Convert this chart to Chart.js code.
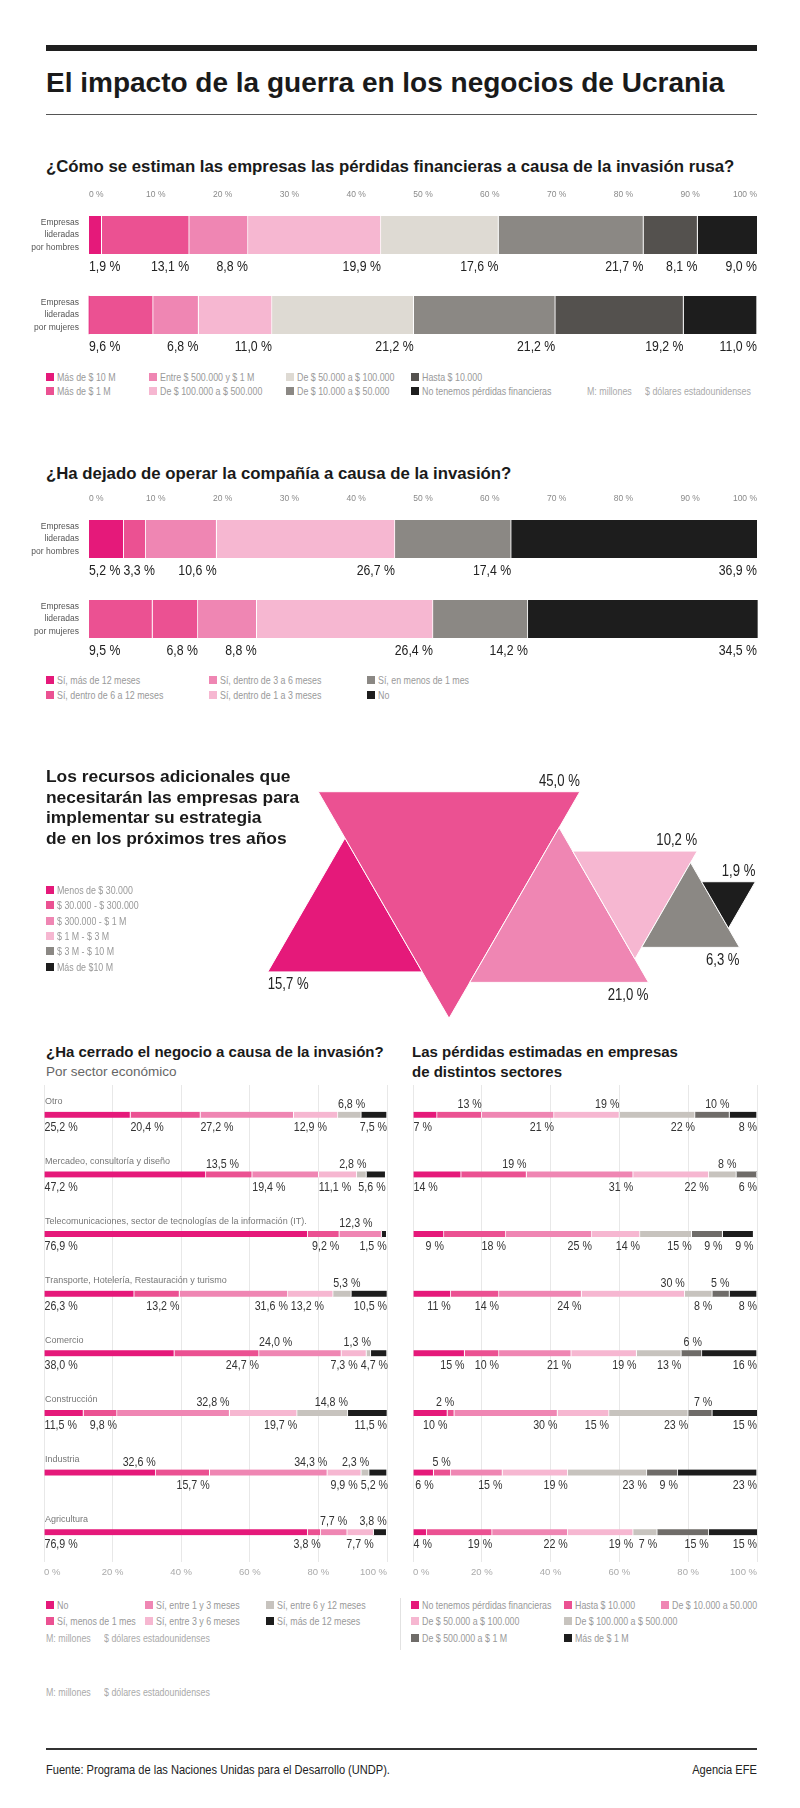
<!DOCTYPE html>
<html>
<head>
<meta charset="utf-8">
<script src="https://cdn.jsdelivr.net/npm/chart.js@4.4.1/dist/chart.umd.min.js"></script>
<style>
  body { margin: 0; background: #fff; }
  #page { position: relative; width: 800px; height: 1808px; overflow: hidden; background: #fff;
          font-family: 'Liberation Sans', Arial, sans-serif; color: #1a1a1a; }
  .abs { position: absolute; white-space: nowrap; }
  .sq { display: inline-block; transform: scaleX(0.82); transform-origin: 0 50%; }
  .sqr { display: inline-block; transform: scaleX(0.82); transform-origin: 100% 50%; }
  canvas { position: absolute; }
  .leg { position: absolute; height: 14px; line-height: 14px; display: flex; align-items: center;
         font-size: 10.8px; color: #999; white-space: nowrap; }
  .leg i { width: 8px; height: 8px; margin-right: 3px; flex: none; }
  .leg span { display: inline-block; transform: scaleX(0.82); transform-origin: 0 50%; }
</style>
</head>
<body>
<div id="page">
  <div class="abs" style="left:46px;top:45px;width:711px;height:6px;background:#1f1f1f"></div>
  <div class="abs" style="left:46px;top:67px;font-weight:bold;font-size:28px;line-height:32px">El impacto de la guerra en los negocios de Ucrania</div>
  <div class="abs" style="left:46px;top:114px;width:711px;height:1px;background:#555"></div>

  <div class="abs" style="left:46px;top:157px;font-weight:bold;font-size:16.8px;line-height:20px">¿Cómo se estiman las empresas las pérdidas financieras a causa de la invasión rusa?</div>
  <canvas id="c1" width="800" height="180" style="left:0;top:180px;width:800px;height:180px"></canvas>

  <div class="abs" style="left:46px;top:464px;font-weight:bold;font-size:16.8px;line-height:20px">¿Ha dejado de operar la compañía a causa de la invasión?</div>
  <canvas id="c2" width="800" height="180" style="left:0;top:484px;width:800px;height:180px"></canvas>

  <canvas id="c3" width="800" height="280" style="left:0;top:760px;width:800px;height:280px"></canvas>
  <div class="abs" style="left:46px;top:766px;font-weight:bold;font-size:17.4px;line-height:20.7px">Los recursos adicionales que<br>necesitarán las empresas para<br>implementar su estrategia<br>de en los próximos tres años</div>

  <div class="abs" style="left:46px;top:1043px;font-weight:bold;font-size:15px;line-height:18px">¿Ha cerrado el negocio a causa de la invasión?</div>
  <div class="abs" style="left:46px;top:1064px;font-size:13.5px;line-height:16px;color:#666">Por sector económico</div>
  <div class="abs" style="left:412px;top:1042px;font-weight:bold;font-size:15px;line-height:20px">Las pérdidas estimadas en empresas<br>de distintos sectores</div>
  <canvas id="c4" width="400" height="510" style="left:0;top:1075px;width:400px;height:510px"></canvas>
  <canvas id="c5" width="400" height="510" style="left:400px;top:1075px;width:400px;height:510px"></canvas>
  <div class="abs" style="left:400px;top:1598px;width:1px;height:52px;background:#e2e2e2"></div>

  <div class="abs" style="left:46px;top:1748px;width:711px;height:2px;background:#333"></div>
  <div class="abs" style="left:46px;top:1762px;font-size:13.5px;line-height:16px;color:#222"><span class="sq">Fuente: Programa de las Naciones Unidas para el Desarrollo (UNDP).</span></div>
  <div class="abs" style="right:43px;top:1762px;font-size:13.5px;line-height:16px;color:#222"><span class="sqr">Agencia EFE</span></div>
</div>

<script>
// ---- data ----
const lossSeries = ['Más de $ 10 M', 'Más de $ 1 M', 'Entre $ 500.000 y $ 1 M', 'De $ 100.000 a $ 500.000',
                    'De $ 50.000 a $ 100.000', 'De $ 10.000 a $ 50.000', 'Hasta $ 10.000', 'No tenemos pérdidas financieras'];
const lossMen   = [1.9, 13.1, 8.8, 19.9, 17.6, 21.7, 8.1, 9.0];
const lossWomen = [0, 9.6, 6.8, 11.0, 21.2, 21.2, 19.2, 11.0];

const stopSeries = ['Sí, más de 12 meses', 'Sí, dentro de 6 a 12 meses', 'Sí, dentro de 3 a 6 meses',
                    'Sí, dentro de 1 a 3 meses', 'Sí, en menos de 1 mes', 'No'];
const stopMen   = [5.2, 3.3, 10.6, 26.7, 17.4, 36.9];
const stopWomen = [9.5, 6.8, 8.8, 26.4, 14.2, 34.5];

const companyRows = [['Empresas', 'lideradas', 'por hombres'], ['Empresas', 'lideradas', 'por mujeres']];

const resourceLabels = ['Menos de $ 30.000', '$ 30.000 - $ 300.000', '$ 300.000 - $ 1 M', '$ 1 M - $ 3 M', '$ 3 M - $ 10 M', 'Más de $10 M'];
const resourceValues = [15.7, 45.0, 21.0, 10.2, 6.3, 1.9];

const sectors = ['Otro', 'Mercadeo, consultoría y diseño', 'Telecomunicaciones, sector de tecnologías de la información (IT).',
                 'Transporte, Hotelería, Restauración y turismo', 'Comercio', 'Construcción', 'Industria', 'Agricultura'];
const closeSeries = ['No', 'Sí, menos de 1 mes', 'Sí, entre 1 y 3 meses', 'Sí, entre 3 y 6 meses', 'Sí, entre 6 y 12 meses', 'Sí, más de 12 meses'];
const closeNo     = [25.2, 47.2, 76.9, 26.3, 38.0, 11.5, 32.6, 76.9];
const closeUnder1 = [20.4, 13.5, 9.2, 13.2, 24.7, 9.8, 15.7, 3.8];
const close1to3   = [27.2, 19.4, 12.3, 31.6, 24.0, 32.8, 34.3, 7.7];
const close3to6   = [12.9, 11.1, 0, 13.2, 7.3, 19.7, 9.9, 7.7];
const close6to12  = [6.8, 2.8, 0, 5.3, 1.3, 14.8, 2.3, 0];
const closeOver12 = [7.5, 5.6, 1.5, 10.5, 4.7, 11.5, 5.2, 3.8];

const sectorLossSeries = ['No tenemos pérdidas financieras', 'Hasta $ 10.000', 'De $ 10.000 a 50.000', 'De $ 50.000 a $ 100.000',
                          'De $ 100.000 a $ 500.000', 'De $ 500.000  a $ 1 M', 'Más de $ 1 M'];
const lossNone     = [7, 14, 9, 11, 15, 10, 6, 4];
const lossTo10k    = [13, 19, 18, 14, 10, 2, 5, 19];
const loss10to50k  = [21, 31, 25, 24, 21, 30, 15, 22];
const loss50to100k = [19, 22, 14, 30, 19, 15, 19, 19];
const loss100to500k = [22, 8, 15, 8, 13, 23, 23, 7];
const loss500kto1M = [10, 6, 9, 5, 6, 7, 9, 15];
const lossOver1M   = [8, 0, 9, 8, 16, 15, 23, 15];

// ---- styling / layout ----
const FONT = "'Liberation Sans', Arial, sans-serif";
const SX = 0.82;   // horizontal squeeze to imitate the condensed face of the original
const PINK1 = '#e5197a', PINK2 = '#eb5192', PINK3 = '#ef86b3', PINK4 = '#f6b7d1';
const BEIGE = '#dedad3', GREY = '#8b8884', DARK = '#54514e', BLACK = '#1d1d1d', LGREY = '#c7c3be', MGREY = '#6f6c69';

const lossColors = [PINK1, PINK2, PINK3, PINK4, BEIGE, GREY, DARK, BLACK];
const stopColors = [[PINK1, PINK2], PINK2, PINK3, PINK4, GREY, BLACK];
const resourceColors = [PINK1, PINK2, PINK3, PINK4, GREY, BLACK];
const closeColors = [PINK1, PINK2, PINK3, PINK4, LGREY, BLACK];
const sectorLossColors = [PINK1, PINK2, PINK3, PINK4, LGREY, MGREY, BLACK];

// where each value label sits: t/b = above/below the bar, s/e = aligned on segment start/end
const closeLabelPos = ['bs bs bs bs ts be', 'bs ts bs bs te be', 'bs be ts bs bs be', 'bs be be bs ts be',
                       'bs be ts be te be', 'bs be te be te be', 'te be te be te be', 'bs be te be bs te'];
const sectorLossLabelPos = ['bs te be te be te be', 'bs te be be te be be', 'be be be be be be be', 'be be be te be te be',
                            'be be be be be te be', 'be te be be be te be', 'be te be be be be be', 'bs be be be be be be'];

const page = document.getElementById('page');

function fmtPct(v, dec) {
  return v.toFixed(dec).replace('.', ',') + ' %';
}

function fillNarrow(ctx, text, left, y) {
  ctx.save();
  ctx.translate(left, y);
  ctx.scale(SX, 1);
  ctx.fillText(text, 0, 0);
  ctx.restore();
}

function segLabels(cfg) {
  return {
    id: 'segLabels',
    afterDatasetsDraw(chart) {
      const ctx = chart.ctx, area = chart.chartArea;
      ctx.save();
      ctx.font = cfg.font;
      ctx.fillStyle = cfg.color;
      ctx.textAlign = 'left';
      chart.data.labels.forEach((lab, j) => {
        const items = [];
        let first = true;
        chart.data.datasets.forEach((ds, d) => {
          const v = ds.data[j];
          if (!v) return;
          const el = chart.getDatasetMeta(d).data[j];
          const x1 = Math.min(el.base, el.x), x2 = Math.min(Math.max(el.base, el.x), area.right);
          const code = cfg.codes ? cfg.codes[j].split(' ')[d] : (first ? 'bs' : 'be');
          first = false;
          const text = fmtPct(v, cfg.decimals);
          const w = ctx.measureText(text).width * SX;
          let left = code[1] === 's' ? x1 : x2 - w;
          left = Math.max(area.left, left);
          items.push({ text, w, left, top: code[0] === 't', el });
        });
        [true, false].forEach(side => {
          const list = items.filter(it => it.top === side);
          for (let k = 1; k < list.length; k++) {
            const prev = list[k - 1];
            if (list[k].left < prev.left + prev.w + 3) list[k].left = prev.left + prev.w + 3;
          }
          for (let k = list.length - 1; k >= 0; k--) {
            const limit = k === list.length - 1 ? area.right + 1 : list[k + 1].left - 3;
            if (list[k].left + list[k].w > limit) list[k].left = limit - list[k].w;
          }
          list.forEach(it => {
            const h = it.el.height / 2;
            if (side) {
              ctx.textBaseline = 'bottom';
              fillNarrow(ctx, it.text, it.left, it.el.y - h - cfg.gapTop);
            } else {
              ctx.textBaseline = 'top';
              fillNarrow(ctx, it.text, it.left, it.el.y + h + cfg.gapBottom);
            }
          });
        });
      });
      ctx.restore();
    }
  };
}

function addLegend(names, colors, cells, xs, ys) {
  names.forEach((name, i) => {
    const cell = cells[i];
    const d = document.createElement('div');
    d.className = 'leg';
    d.style.left = xs[cell[0]] + 'px';
    d.style.top = (ys[cell[1]] - 7) + 'px';
    d.innerHTML = '<i style="background:' + colors[i] + '"></i><span>' + name + '</span>';
    page.appendChild(d);
  });
}

function addNote(x, y, text) {
  const d = document.createElement('div');
  d.className = 'leg';
  d.style.left = x + 'px';
  d.style.top = (y - 7) + 'px';
  d.style.color = '#aaa';
  d.innerHTML = '<span></span>';
  d.firstChild.textContent = text;
  page.appendChild(d);
}

const colMajor2 = n => Array.from({ length: n }, (_, i) => [Math.floor(i / 2), i % 2]);

// ---- stacked bars for the two company charts ----
function companyChart(id, series, men, women, colors) {
  new Chart(document.getElementById(id), {
    type: 'bar',
    data: {
      labels: companyRows,
      datasets: series.map((name, i) => ({
        label: name,
        data: [men[i], women[i]],
        backgroundColor: colors[i],
        borderColor: '#fff',
        borderWidth: { top: 0, bottom: 0, left: 0, right: 1 },
        borderSkipped: false,
        barThickness: 38,
        clip: false
      }))
    },
    options: {
      indexAxis: 'y',
      responsive: false,
      animation: false,
      events: [],
      layout: { autoPadding: false, padding: { left: 0, right: 43, top: 0, bottom: 45 } },
      plugins: { legend: { display: false }, tooltip: { enabled: false } },
      scales: {
        x: {
          position: 'top', stacked: true, min: 0, max: 100,
          ticks: { stepSize: 10, align: 'inner', padding: 27, color: '#8a8a8a',
                   font: { family: FONT, size: 8.5 }, callback: v => v + ' %' },
          grid: { display: false }, border: { display: false },
          afterFit: s => { s.height = 55; }
        },
        y: {
          stacked: true, offset: false,
          ticks: { color: '#555', padding: 2, font: { family: FONT, size: 8.5, lineHeight: 1.5 } },
          grid: { display: false }, border: { display: false },
          afterFit: s => { s.width = 89; }
        }
      }
    },
    plugins: [segLabels({ font: '15px ' + FONT, color: '#222', decimals: 1, gapTop: 2, gapBottom: 5 })]
  });
}

companyChart('c1', lossSeries, lossMen, lossWomen, lossColors);
companyChart('c2', stopSeries, stopMen, stopWomen, stopColors);

addLegend(lossSeries, lossColors, colMajor2(8), [46, 149, 286, 411], [377, 391]);
addNote(587, 391, 'M: millones');
addNote(645, 391, '$ dólares estadounidenses');
addLegend(stopSeries, stopColors.map(c => Array.isArray(c) ? c[0] : c), colMajor2(6), [46, 209, 367], [680, 695]);

// ---- triangles: area proportional to the share, neighbours share an edge ----
const TRI_K = 19.5, TRI_X0 = 345, TRI_MID = 905;
const triHalf = resourceValues.map(v => TRI_K * Math.sqrt(v));
const triRadius = triHalf.map(h => 2 * h / Math.sqrt(3));
const triRotation = resourceValues.map((v, i) => (i % 2 === 0 ? 0 : 180));
const triX = [];
triHalf.forEach((h, i) => triX.push(i === 0 ? TRI_X0 : triX[i - 1] + (triHalf[i - 1] + h) / 2));
const triPoints = resourceValues.map((v, i) => ({
  x: triX[i],
  y: TRI_MID + (triRotation[i] === 0 ? 1 : -1) * triRadius[i] / 4
}));
const triLabelAnchor = ['bl', 'tr', 'br', 'tr', 'br', 'tr'];

const triLabels = {
  id: 'triLabels',
  afterDatasetsDraw(chart) {
    const ctx = chart.ctx;
    ctx.save();
    ctx.font = '16px ' + FONT;
    ctx.fillStyle = '#222';
    ctx.textAlign = 'left';
    chart.getDatasetMeta(0).data.forEach((pt, i) => {
      const r = triRadius[i], hw = r * Math.sqrt(3) / 2;
      const a = triLabelAnchor[i];
      const text = fmtPct(resourceValues[i], 1);
      const w = ctx.measureText(text).width * SX;
      const left = a[1] === 'l' ? pt.x - hw : pt.x + hw - w;
      if (a[0] === 'b') {
        ctx.textBaseline = 'top';
        fillNarrow(ctx, text, left, pt.y + r / 2 + 5);
      } else {
        ctx.textBaseline = 'bottom';
        fillNarrow(ctx, text, left, pt.y - r / 2 - 2);
      }
    });
    ctx.restore();
  }
};

new Chart(document.getElementById('c3'), {
  type: 'scatter',
  data: {
    datasets: [{
      label: 'Recursos adicionales',
      data: triPoints,
      pointStyle: 'triangle',
      pointRadius: triRadius,
      pointRotation: triRotation,
      backgroundColor: resourceColors,
      borderColor: '#fff',
      borderWidth: 1,
      clip: false
    }]
  },
  options: {
    responsive: false,
    animation: false,
    events: [],
    layout: { autoPadding: false, padding: 0 },
    plugins: { legend: { display: false }, tooltip: { enabled: false } },
    scales: {
      x: { type: 'linear', min: 0, max: 800, display: false },
      y: { type: 'linear', min: 760, max: 1040, reverse: true, display: false }
    }
  },
  plugins: [triLabels]
});

addLegend(resourceLabels, resourceColors, resourceLabels.map((l, i) => [0, i]), [46],
          [890, 905.3, 920.6, 935.9, 951.2, 966.5]);

// ---- sector charts ----
function sectorChart(id, series, values, colors, labelPos, decimals, showNames, padL, padR) {
  new Chart(document.getElementById(id), {
    type: 'bar',
    data: {
      labels: sectors,
      datasets: series.map((name, i) => ({
        label: name,
        data: values[i],
        backgroundColor: colors[i],
        borderColor: '#fff',
        borderWidth: { top: 0, bottom: 0, left: 0, right: 1 },
        borderSkipped: false,
        barThickness: 6
      }))
    },
    options: {
      indexAxis: 'y',
      responsive: false,
      animation: false,
      events: [],
      layout: { autoPadding: false, padding: { left: padL, right: padR, top: 10, bottom: 0 } },
      plugins: { legend: { display: false }, tooltip: { enabled: false } },
      scales: {
        x: {
          position: 'bottom', stacked: true, min: 0, max: 100,
          ticks: { stepSize: 20, align: 'inner', padding: 5, color: '#aaa',
                   font: { family: FONT, size: 9.5 }, callback: v => v + ' %' },
          grid: { color: '#e8e8e8', drawTicks: false }, border: { display: false },
          afterFit: s => { s.height = 23; }
        },
        y: {
          display: showNames, stacked: true,
          ticks: { mirror: true, padding: 1, labelOffset: -13, autoSkip: false, color: '#777',
                   font: { family: FONT, size: 9 } },
          grid: { display: false }, border: { display: false },
          afterFit: s => { s.width = 0; }
        }
      }
    },
    plugins: [segLabels({ font: '13px ' + FONT, color: '#333', decimals, codes: labelPos, gapTop: 1, gapBottom: 3 })]
  });
}

sectorChart('c4', closeSeries, [closeNo, closeUnder1, close1to3, close3to6, close6to12, closeOver12],
            closeColors, closeLabelPos, 1, true, 44, 13);
sectorChart('c5', sectorLossSeries, [lossNone, lossTo10k, loss10to50k, loss50to100k, loss100to500k, loss500kto1M, lossOver1M],
            sectorLossColors, sectorLossLabelPos, 0, false, 13, 43);

addLegend(closeSeries, closeColors, colMajor2(6), [46, 145, 266], [1605, 1621]);
addNote(46, 1638, 'M: millones');
addNote(104, 1638, '$ dólares estadounidenses');
addLegend(sectorLossSeries, sectorLossColors, [[0, 0], [1, 0], [2, 0], [0, 1], [1, 1], [0, 2], [1, 2]],
          [411, 564, 661], [1605, 1621, 1638]);
addNote(46, 1692, 'M: millones');
addNote(104, 1692, '$ dólares estadounidenses');
</script>
</body>
</html>
